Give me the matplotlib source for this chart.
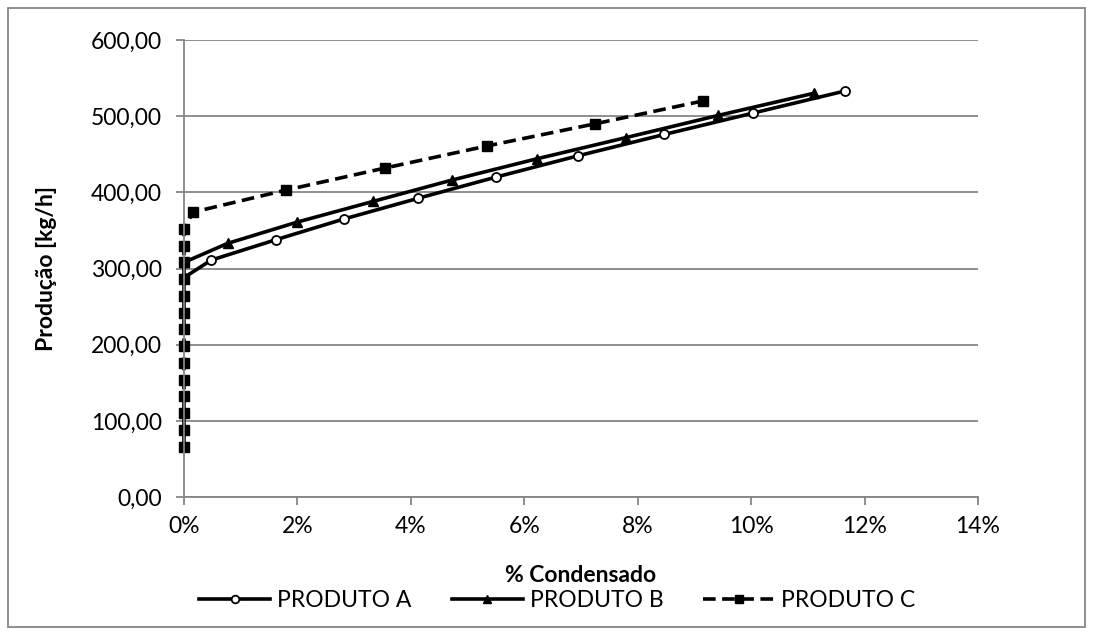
import matplotlib.pyplot as plt
from matplotlib.ticker import FuncFormatter, MultipleLocator
from matplotlib.patches import Rectangle

plt.rcParams['font.family'] = ['Lato', 'DejaVu Sans']

# % condensado (fraction, 0-1) vs produção [kg/h]
xa = [0.0, 0.0048, 0.0163, 0.0282, 0.0412, 0.0550, 0.0695, 0.0847, 0.1003, 0.1165]
ya = [288, 311, 338, 365, 392, 420, 448, 476, 504, 533]

xb = [0.0, 0.0077, 0.0200, 0.0333, 0.0472, 0.0622, 0.0780, 0.0942, 0.1110]
yb = [308, 333, 361, 388, 416, 444, 472, 501, 530]

xc = [0.0] * 14 + [0.0016, 0.0180, 0.0355, 0.0535, 0.0725, 0.0915]
yc = [66, 88, 110, 132, 154, 176, 198, 220, 242, 264, 286, 308, 330, 352,
      374, 403, 432, 461, 490, 520]

labels = ['PRODUTO A', 'PRODUTO B', 'PRODUTO C']

fig = plt.figure(figsize=(10.93, 6.35), dpi=100)
ax = fig.add_axes([0.1683, 0.2173, 0.8948 - 0.1683, 0.937 - 0.2173])

grey = '#868686'
ax.plot(xa, ya, color='black', lw=2.6, marker='o', ms=6.5, mfc='white',
        mec='black', mew=1.3, label=labels[0], clip_on=False)
ax.plot(xb, yb, color='black', lw=2.6, marker='^', ms=7.5, mfc='black',
        mec='black', label=labels[1], clip_on=False)
ax.plot(xc, yc, color='black', lw=2.6, ls=(0, (3.5, 1.8)), marker='s', ms=7.2,
        mfc='black', mec='black', label=labels[2], clip_on=False)

ax.set_xlim(0, 0.14)
ax.set_ylim(0, 600)
ax.xaxis.set_major_locator(MultipleLocator(0.02))
ax.yaxis.set_major_locator(MultipleLocator(100))
ax.xaxis.set_major_formatter(FuncFormatter(lambda v, p: f'{v * 100:.0f}%'))
ax.yaxis.set_major_formatter(FuncFormatter(lambda v, p: f'{v:.2f}'.replace('.', ',')))

ax.grid(axis='y', color=grey, lw=1.3)
ax.set_axisbelow(True)
for s in ['top', 'right']:
    ax.spines[s].set_visible(False)
for s in ['left', 'bottom']:
    ax.spines[s].set_color(grey)
    ax.spines[s].set_linewidth(1.3)
ax.tick_params(axis='both', colors=grey, labelcolor='black', labelsize=16.5,
               length=6, width=1.3, direction='out')
ax.tick_params(axis='y', pad=10)
ax.tick_params(axis='x', pad=8)

ax.set_xlabel('% Condensado', fontsize=16.5, fontweight='bold', labelpad=20)
ax.set_ylabel('Produção [kg/h]', fontsize=16.5, fontweight='bold', labelpad=24)

fig.legend(loc='center', bbox_to_anchor=(0.51, 0.055), ncol=3, frameon=False,
           fontsize=16.5, handlelength=3.1, columnspacing=1.75,
           handletextpad=0.3, markerscale=0.85)

fig.patches.append(Rectangle((8 / 1093, 8 / 635), 1 - 16 / 1093, 1 - 16 / 635,
                             transform=fig.transFigure, fill=False,
                             edgecolor=grey, lw=1.3))

fig.savefig('out.png', dpi=100)
